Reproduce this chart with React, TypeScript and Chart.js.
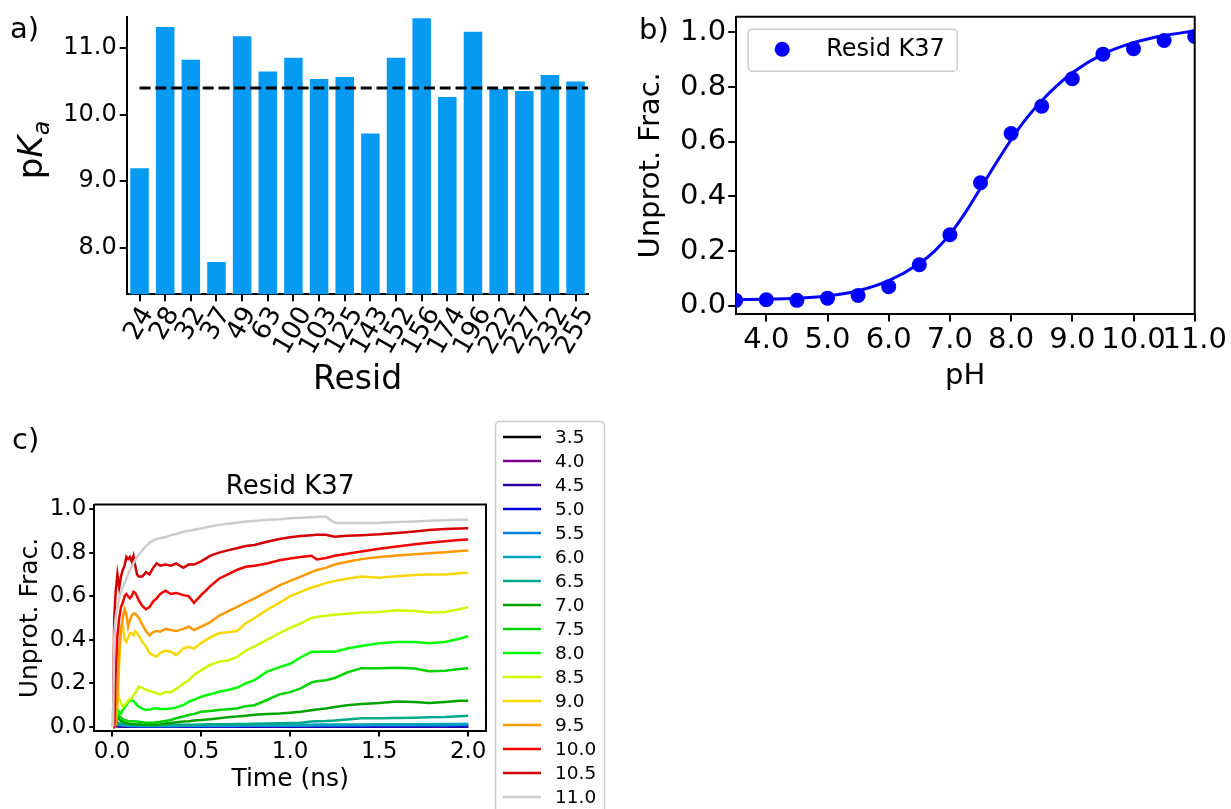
import React, { useEffect, useRef } from "react";
import { Chart, registerables } from "chart.js";

Chart.register(...registerables);

const DV = "DejaVu Sans";

// ---------- Panel a ----------
const RESIDS = ["24", "28", "32", "37", "49", "63", "100", "103", "125", "143", "152", "156", "174", "196", "222", "227", "232", "255"];
const PKA_VALUES = [9.21, 11.33, 10.84, 7.8, 11.19, 10.66, 10.87, 10.55, 10.58, 9.73, 10.87, 11.46, 10.28, 11.26, 10.4, 10.37, 10.61, 10.51];
const PKA_AVERAGE = 10.4;
const PKA_TICKS = [8, 9, 10, 11];

// ---------- Panel b ----------
const PH_MEASURED = [3.5, 4, 4.5, 5, 5.5, 6, 6.5, 7, 7.5, 8, 8.5, 9, 9.5, 10, 10.5, 11];
const FRAC_MEASURED = [0.02, 0.022, 0.02, 0.028, 0.038, 0.07, 0.15, 0.26, 0.45, 0.63, 0.73, 0.83, 0.92, 0.94, 0.97, 0.985];
const PH_FIT = [3.5, 4, 4.5, 5, 5.5, 6, 6.5, 6.75, 7, 7.25, 7.5, 7.75, 8, 8.25, 8.5, 8.75, 9, 9.5, 10, 10.5, 11];
const FRAC_FIT = [0.022, 0.024, 0.028, 0.036, 0.055, 0.092, 0.155, 0.2, 0.262, 0.34, 0.43, 0.52, 0.607, 0.685, 0.75, 0.805, 0.852, 0.92, 0.962, 0.988, 1.005];
const PH_TICKS = [4, 5, 6, 7, 8, 9, 10, 11];
const FRAC_TICKS = [0, 0.2, 0.4, 0.6, 0.8, 1.0];

// ---------- Panel c ----------
const TIME_NS = [0.005, 0.012, 0.02, 0.03, 0.04, 0.05, 0.06, 0.07, 0.08, 0.09, 0.1, 0.11, 0.12, 0.13, 0.14, 0.15, 0.17, 0.19, 0.21, 0.23, 0.25, 0.27, 0.3, 0.33, 0.36, 0.4, 0.43, 0.46, 0.5, 0.55, 0.6, 0.65, 0.7, 0.75, 0.8, 0.87, 0.94, 1.0, 1.06, 1.12, 1.15, 1.2, 1.25, 1.32, 1.4, 1.5, 1.6, 1.7, 1.78, 1.87, 1.95, 2.0];
const TIME_TICKS = [0, 0.5, 1, 1.5, 2];
const PH_LEVELS = ["3.5", "4.0", "4.5", "5.0", "5.5", "6.0", "6.5", "7.0", "7.5", "8.0", "8.5", "9.0", "9.5", "10.0", "10.5", "11.0"];
const LINE_COLORS = ["#000000", "#7d008e", "#2d00a4", "#0000dd", "#0082dd", "#00a4bb", "#00aa88", "#00a400", "#00d200", "#00ff00", "#ccf900", "#f9d700", "#ff9900", "#f30000", "#d20000", "#cccccc"];

const FRAC_PH_3_5 = [0, 0, 0.004, 0.003, 0.002, 0.002, 0.002, 0.001, 0.001, 0.001, 0.001, 0.001, 0.001, 0.001, 0.001, 0.001, 0.001, 0.001, 0.001, 0.001, 0.001, 0.001, 0.001, 0.001, 0.001, 0.001, 0.001, 0.001, 0.001, 0.001, 0.001, 0.001, 0.001, 0.001, 0.001, 0.001, 0.001, 0.001, 0.001, 0.001, 0.001, 0.001, 0.001, 0.001, 0.001, 0.001, 0.001, 0.001, 0.001, 0.001, 0.001, 0.001];
const FRAC_PH_4_0 = [0, 0, 0.006, 0.005, 0.004, 0.003, 0.003, 0.002, 0.002, 0.002, 0.002, 0.002, 0.002, 0.001, 0.001, 0.001, 0.001, 0.001, 0.001, 0.001, 0.001, 0.001, 0.001, 0.001, 0.001, 0.001, 0.001, 0.001, 0.001, 0.001, 0.001, 0.001, 0.001, 0.001, 0.002, 0.002, 0.002, 0.002, 0.002, 0.002, 0.002, 0.002, 0.002, 0.002, 0.002, 0.002, 0.002, 0.002, 0.002, 0.002, 0.002, 0.002];
const FRAC_PH_4_5 = [0, 0, 0.008, 0.006, 0.005, 0.004, 0.004, 0.003, 0.003, 0.003, 0.002, 0.002, 0.002, 0.002, 0.002, 0.002, 0.002, 0.002, 0.002, 0.002, 0.002, 0.002, 0.002, 0.002, 0.002, 0.002, 0.002, 0.002, 0.002, 0.002, 0.002, 0.002, 0.002, 0.002, 0.003, 0.003, 0.003, 0.003, 0.003, 0.003, 0.003, 0.003, 0.003, 0.003, 0.003, 0.003, 0.003, 0.003, 0.003, 0.003, 0.003, 0.003];
const FRAC_PH_5_0 = [0, 0, 0.01, 0.008, 0.007, 0.006, 0.005, 0.005, 0.004, 0.004, 0.004, 0.004, 0.003, 0.003, 0.003, 0.003, 0.003, 0.003, 0.003, 0.003, 0.003, 0.003, 0.003, 0.003, 0.003, 0.003, 0.003, 0.003, 0.003, 0.003, 0.003, 0.003, 0.003, 0.004, 0.004, 0.004, 0.004, 0.004, 0.004, 0.004, 0.004, 0.004, 0.004, 0.004, 0.004, 0.004, 0.004, 0.005, 0.005, 0.005, 0.005, 0.005];
const FRAC_PH_5_5 = [0, 0, 0.012, 0.01, 0.009, 0.008, 0.007, 0.006, 0.006, 0.005, 0.005, 0.005, 0.005, 0.005, 0.004, 0.004, 0.004, 0.004, 0.004, 0.004, 0.004, 0.004, 0.004, 0.004, 0.004, 0.005, 0.005, 0.005, 0.005, 0.005, 0.005, 0.005, 0.005, 0.006, 0.006, 0.006, 0.006, 0.006, 0.006, 0.007, 0.007, 0.007, 0.007, 0.007, 0.007, 0.008, 0.008, 0.008, 0.008, 0.008, 0.009, 0.009];
const FRAC_PH_6_0 = [0, 0, 0.014, 0.012, 0.011, 0.01, 0.009, 0.009, 0.008, 0.008, 0.008, 0.007, 0.007, 0.007, 0.007, 0.006, 0.006, 0.006, 0.006, 0.006, 0.006, 0.007, 0.007, 0.007, 0.007, 0.008, 0.008, 0.008, 0.008, 0.009, 0.009, 0.009, 0.01, 0.01, 0.01, 0.01, 0.011, 0.011, 0.011, 0.011, 0.012, 0.012, 0.012, 0.012, 0.012, 0.013, 0.013, 0.013, 0.013, 0.014, 0.014, 0.015];
const FRAC_PH_6_5 = [0, 0, 0.012, 0.02, 0.018, 0.016, 0.015, 0.014, 0.013, 0.012, 0.012, 0.011, 0.011, 0.01, 0.01, 0.01, 0.009, 0.009, 0.008, 0.008, 0.008, 0.008, 0.009, 0.009, 0.01, 0.01, 0.011, 0.011, 0.012, 0.013, 0.013, 0.013, 0.014, 0.014, 0.015, 0.016, 0.017, 0.018, 0.02, 0.025, 0.027, 0.028, 0.03, 0.035, 0.04, 0.04, 0.041, 0.043, 0.045, 0.046, 0.05, 0.052];
const FRAC_PH_7_0 = [0, 0, 0.01, 0.045, 0.035, 0.028, 0.024, 0.02, 0.018, 0.016, 0.015, 0.014, 0.013, 0.012, 0.012, 0.012, 0.011, 0.01, 0.01, 0.011, 0.012, 0.013, 0.016, 0.019, 0.022, 0.025, 0.027, 0.03, 0.032, 0.036, 0.04, 0.045, 0.048, 0.052, 0.056, 0.06, 0.062, 0.066, 0.07, 0.077, 0.08, 0.085, 0.092, 0.1, 0.106, 0.11, 0.117, 0.115, 0.11, 0.115, 0.12, 0.12];
const FRAC_PH_7_5 = [0, 0, 0.02, 0.065, 0.05, 0.042, 0.036, 0.032, 0.03, 0.028, 0.027, 0.026, 0.026, 0.025, 0.025, 0.024, 0.022, 0.02, 0.02, 0.02, 0.022, 0.024, 0.028, 0.032, 0.04, 0.048, 0.055, 0.06, 0.07, 0.074, 0.078, 0.082, 0.085, 0.095, 0.1, 0.124, 0.15, 0.16, 0.177, 0.205, 0.21, 0.215, 0.225, 0.25, 0.27, 0.27, 0.272, 0.268, 0.256, 0.258, 0.266, 0.27];
const FRAC_PH_8_0 = [0, 0, 0.02, 0.08, 0.07, 0.06, 0.08, 0.09, 0.1, 0.115, 0.12, 0.125, 0.12, 0.11, 0.1, 0.093, 0.085, 0.078, 0.08, 0.085, 0.085, 0.083, 0.083, 0.085, 0.09, 0.1, 0.116, 0.125, 0.139, 0.15, 0.162, 0.17, 0.18, 0.2, 0.215, 0.254, 0.275, 0.29, 0.32, 0.345, 0.345, 0.345, 0.345, 0.36, 0.372, 0.384, 0.39, 0.39, 0.384, 0.39, 0.405, 0.417];
const FRAC_PH_8_5 = [0, 0, 0.03, 0.17, 0.13, 0.11, 0.093, 0.1, 0.11, 0.12, 0.13, 0.13, 0.145, 0.155, 0.17, 0.185, 0.18, 0.17, 0.165, 0.16, 0.155, 0.15, 0.16, 0.16, 0.175, 0.2, 0.215, 0.24, 0.26, 0.285, 0.3, 0.305, 0.32, 0.35, 0.37, 0.4, 0.43, 0.455, 0.475, 0.5, 0.505, 0.51, 0.515, 0.52, 0.525, 0.528, 0.535, 0.532, 0.525, 0.528, 0.54, 0.55];
const FRAC_PH_9_0 = [0, 0, 0.02, 0.1, 0.3, 0.44, 0.47, 0.4, 0.39, 0.41, 0.43, 0.43, 0.42, 0.44, 0.43, 0.42, 0.39, 0.37, 0.34, 0.33, 0.322, 0.34, 0.35, 0.345, 0.33, 0.36, 0.368, 0.36, 0.385, 0.41, 0.43, 0.435, 0.44, 0.475, 0.5, 0.537, 0.57, 0.6, 0.62, 0.64, 0.647, 0.66, 0.67, 0.68, 0.69, 0.685, 0.692, 0.697, 0.7, 0.7, 0.705, 0.708];
const FRAC_PH_9_5 = [0, 0, 0.01, 0.15, 0.35, 0.45, 0.5, 0.54, 0.52, 0.46, 0.49, 0.51, 0.52, 0.52, 0.51, 0.5, 0.47, 0.44, 0.42, 0.435, 0.44, 0.437, 0.45, 0.445, 0.44, 0.45, 0.46, 0.445, 0.46, 0.48, 0.51, 0.53, 0.55, 0.57, 0.59, 0.62, 0.65, 0.67, 0.69, 0.71, 0.72, 0.73, 0.745, 0.758, 0.77, 0.78, 0.787, 0.792, 0.797, 0.802, 0.807, 0.81];
const FRAC_PH_10_0 = [0, 0, 0.25, 0.42, 0.5, 0.55, 0.57, 0.6, 0.61, 0.6, 0.59, 0.6, 0.62, 0.615, 0.6, 0.58, 0.555, 0.54, 0.55, 0.575, 0.59, 0.61, 0.625, 0.61, 0.615, 0.605, 0.6, 0.57, 0.605, 0.645, 0.68, 0.7, 0.72, 0.735, 0.74, 0.75, 0.765, 0.773, 0.78, 0.785, 0.768, 0.775, 0.785, 0.795, 0.805, 0.818, 0.828, 0.838, 0.845, 0.852, 0.858, 0.86];
const FRAC_PH_10_5 = [0, 0.5, 0.62, 0.7, 0.64, 0.69, 0.72, 0.74, 0.78, 0.77, 0.78, 0.76, 0.785, 0.74, 0.7, 0.69, 0.69, 0.71, 0.7, 0.73, 0.75, 0.74, 0.745, 0.74, 0.75, 0.73, 0.745, 0.745, 0.76, 0.785, 0.8, 0.81, 0.82, 0.83, 0.835, 0.85, 0.862, 0.87, 0.876, 0.88, 0.882, 0.882, 0.873, 0.877, 0.88, 0.884, 0.89, 0.897, 0.903, 0.908, 0.91, 0.911];
const FRAC_PH_11_0 = [0, 0.42, 0.5, 0.55, 0.59, 0.62, 0.64, 0.66, 0.68, 0.7, 0.72, 0.735, 0.75, 0.765, 0.78, 0.79, 0.81, 0.83, 0.845, 0.855, 0.862, 0.866, 0.87, 0.88, 0.885, 0.895, 0.9, 0.905, 0.91, 0.92, 0.927, 0.932, 0.937, 0.942, 0.945, 0.95, 0.953, 0.957, 0.96, 0.962, 0.963, 0.965, 0.937, 0.936, 0.936, 0.937, 0.94, 0.943, 0.946, 0.948, 0.95, 0.951];

const TRACES = [FRAC_PH_3_5, FRAC_PH_4_0, FRAC_PH_4_5, FRAC_PH_5_0, FRAC_PH_5_5, FRAC_PH_6_0, FRAC_PH_6_5, FRAC_PH_7_0, FRAC_PH_7_5, FRAC_PH_8_0, FRAC_PH_8_5, FRAC_PH_9_0, FRAC_PH_9_5, FRAC_PH_10_0, FRAC_PH_10_5, FRAC_PH_11_0];

// ---------- helpers ----------
const axisGrid = (len: number, w: number) => ({
  display: true,
  drawOnChartArea: false,
  drawTicks: true,
  tickLength: len,
  tickColor: "#000",
  tickWidth: w,
  color: "#000",
  lineWidth: w,
  offset: false,
});
const axisBorder = (w: number) => ({ display: true, color: "#000", width: w });
const fixedTicks = (vals: number[]) => (s: any) => {
  s.ticks = vals.map((v) => ({ value: v }));
};

function roundRect(ctx: CanvasRenderingContext2D, x: number, y: number, w: number, h: number, r: number) {
  ctx.beginPath();
  ctx.moveTo(x + r, y);
  ctx.lineTo(x + w - r, y);
  ctx.arcTo(x + w, y, x + w, y + r, r);
  ctx.lineTo(x + w, y + h - r);
  ctx.arcTo(x + w, y + h, x + w - r, y + h, r);
  ctx.lineTo(x + r, y + h);
  ctx.arcTo(x, y + h, x, y + h - r, r);
  ctx.lineTo(x, y + r);
  ctx.arcTo(x, y, x + r, y, r);
  ctx.closePath();
}

function frame(chart: any, w: number) {
  const { ctx, chartArea } = chart;
  ctx.save();
  ctx.strokeStyle = "#000";
  ctx.lineWidth = w;
  ctx.beginPath();
  ctx.moveTo(chartArea.left, chartArea.top);
  ctx.lineTo(chartArea.right, chartArea.top);
  ctx.lineTo(chartArea.right, chartArea.bottom);
  ctx.stroke();
  ctx.restore();
}

// ---------- panel a plugin ----------
const panelAPlugin = {
  id: "panelA",
  afterDatasetsDraw(chart: any) {
    const { ctx, chartArea, scales } = chart;
    const y = scales.y.getPixelForValue(PKA_AVERAGE);
    const x0 = scales.x.getPixelForValue(0);
    ctx.save();
    ctx.beginPath();
    ctx.rect(chartArea.left, chartArea.top, chartArea.right - chartArea.left, chartArea.bottom - chartArea.top);
    ctx.clip();
    ctx.strokeStyle = "#000";
    ctx.lineWidth = 3;
    ctx.setLineDash([11, 4.8]);
    ctx.beginPath();
    ctx.moveTo(x0, y);
    ctx.lineTo(chartArea.right, y);
    ctx.stroke();
    ctx.restore();
  },
  afterDraw(chart: any) {
    const { ctx, chartArea, scales } = chart;
    ctx.save();
    ctx.fillStyle = "#000";
    const fs = 26;
    ctx.font = `${fs}px "${DV}"`;
    const ang = (60 * Math.PI) / 180;
    const top = chartArea.bottom + 7 + 2;
    RESIDS.forEach((lab, i) => {
      const x = scales.x.getPixelForValue(i);
      const w = ctx.measureText(lab).width;
      const h = fs * 0.95;
      const H = w * Math.sin(ang) + h * Math.cos(ang);
      ctx.save();
      ctx.translate(x, top + H / 2);
      ctx.rotate(-ang);
      ctx.textAlign = "center";
      ctx.textBaseline = "middle";
      ctx.fillText(lab, 0, 0);
      ctx.restore();
    });
    // y title pK_a
    const f = 34;
    ctx.save();
    ctx.translate(30, 150);
    ctx.rotate(-Math.PI / 2);
    ctx.textBaseline = "alphabetic";
    ctx.textAlign = "left";
    ctx.font = `${f}px "${DV}"`;
    const pW = ctx.measureText("p").width;
    ctx.font = `italic ${f}px "${DV}"`;
    const kW = ctx.measureText("K").width;
    ctx.font = `italic ${f * 0.7}px "${DV}"`;
    const aW = ctx.measureText("a").width;
    const total = pW + kW + aW;
    let xx = -total / 2;
    const by = f * 0.36;
    ctx.font = `${f}px "${DV}"`;
    ctx.fillText("p", xx, by);
    xx += pW;
    ctx.font = `italic ${f}px "${DV}"`;
    ctx.fillText("K", xx, by);
    xx += kW;
    ctx.font = `italic ${f * 0.7}px "${DV}"`;
    ctx.fillText("a", xx, by + f * 0.2);
    ctx.restore();
    ctx.font = `29px "${DV}"`;
    ctx.textBaseline = "alphabetic";
    ctx.textAlign = "left";
    ctx.fillText("a)", 10, 38);
    ctx.restore();
  },
};

// ---------- panel b plugin ----------
const panelBPlugin = {
  id: "panelB",
  afterDraw(chart: any) {
    const { ctx, chartArea } = chart;
    frame(chart, 2);
    ctx.save();
    const bx = chartArea.left + 12.5;
    const by = chartArea.top + 12.5;
    ctx.fillStyle = "rgba(255,255,255,0.8)";
    ctx.strokeStyle = "#cccccc";
    ctx.lineWidth = 1.5;
    roundRect(ctx, bx, by, 209, 42, 4);
    ctx.fill();
    ctx.stroke();
    const ds = chart.data.datasets[1];
    ctx.fillStyle = ds.pointBackgroundColor;
    ctx.beginPath();
    ctx.arc(bx + 34, by + 20, 7.5, 0, Math.PI * 2);
    ctx.fill();
    ctx.fillStyle = "#000";
    ctx.font = `24px "${DV}"`;
    ctx.textBaseline = "middle";
    ctx.textAlign = "left";
    ctx.fillText(ds.label, bx + 78, by + 21);
    ctx.font = `29px "${DV}"`;
    ctx.textBaseline = "alphabetic";
    ctx.fillText("b)", 19, 39);
    ctx.restore();
  },
};

// ---------- panel c plugin ----------
const panelCPlugin = {
  id: "panelC",
  afterDraw(chart: any) {
    const { ctx, chartArea } = chart;
    frame(chart, 2);
    ctx.save();
    ctx.fillStyle = "#000";
    ctx.font = `26px "${DV}"`;
    ctx.textAlign = "center";
    ctx.textBaseline = "middle";
    ctx.fillText("Resid K37", (chartArea.left + chartArea.right) / 2, 77);
    ctx.fillStyle = "rgba(255,255,255,0.8)";
    ctx.strokeStyle = "#cccccc";
    ctx.lineWidth = 1.5;
    roundRect(ctx, 495.5, 11.5, 109, 420, 4);
    ctx.fill();
    ctx.stroke();
    ctx.font = `18.5px "${DV}"`;
    ctx.textAlign = "left";
    chart.data.datasets.forEach((ds: any, i: number) => {
      const y = 27 + i * 24;
      ctx.strokeStyle = ds.borderColor;
      ctx.lineWidth = 2.5;
      ctx.beginPath();
      ctx.moveTo(503, y);
      ctx.lineTo(541, y);
      ctx.stroke();
      ctx.fillStyle = "#000";
      ctx.fillText(ds.label, 555, y + 1);
    });
    ctx.font = `29px "${DV}"`;
    ctx.textBaseline = "alphabetic";
    ctx.fillText("c)", 12, 39);
    ctx.restore();
  },
};

export default function App() {
  const aRef = useRef<HTMLCanvasElement>(null);
  const bRef = useRef<HTMLCanvasElement>(null);
  const cRef = useRef<HTMLCanvasElement>(null);

  useEffect(() => {
    const charts: Chart[] = [];

    charts.push(
      new Chart(aRef.current as HTMLCanvasElement, {
        type: "bar",
        data: {
          labels: RESIDS,
          datasets: [
            {
              data: PKA_VALUES,
              backgroundColor: "#069af3",
              borderColor: "rgba(255,255,255,0.55)",
              borderWidth: 1,
              barPercentage: 0.8,
              categoryPercentage: 1.0,
            },
          ],
        },
        options: {
          animation: false,
          responsive: false,
          devicePixelRatio: 1,
          events: [],
          layout: { padding: { left: 0, right: 610 - 588.4, top: 16.7, bottom: 0 } },
          plugins: { legend: { display: false }, tooltip: { enabled: false } },
          scales: {
            x: {
              type: "category",
              offset: true,
              z: 1,
              grid: axisGrid(7, 2),
              border: axisBorder(2),
              ticks: { display: false },
              title: {
                display: true,
                text: "Resid",
                color: "#000",
                font: { family: DV, size: 33, lineHeight: 1 },
                padding: { top: 0, bottom: 3 },
              },
              afterFit: (s: any) => {
                s.height = 400 - 294.3;
              },
            },
            y: {
              type: "linear",
              min: 7.3,
              max: 11.47,
              z: 1,
              afterBuildTicks: fixedTicks(PKA_TICKS),
              grid: axisGrid(7, 2),
              border: axisBorder(2),
              ticks: {
                color: "#000",
                padding: 3,
                font: { family: DV, size: 24, lineHeight: 1 },
                callback: (v: any) => Number(v).toFixed(1),
              },
              afterFit: (s: any) => {
                s.width = 126.7;
              },
            },
          },
        } as any,
        plugins: [panelAPlugin],
      })
    );

    charts.push(
      new Chart(bRef.current as HTMLCanvasElement, {
        type: "line",
        data: {
          datasets: [
            {
              label: "fit",
              data: PH_FIT.map((x, i) => ({ x, y: FRAC_FIT[i] })),
              borderColor: "#0000ff",
              borderWidth: 3,
              pointRadius: 0,
              cubicInterpolationMode: "monotone",
              clip: 0,
              order: 1,
            },
            {
              label: "Resid K37",
              data: PH_MEASURED.map((x, i) => ({ x, y: FRAC_MEASURED[i] })),
              showLine: false,
              pointRadius: 7.5,
              pointBackgroundColor: "#0000ff",
              pointBorderWidth: 0,
              borderColor: "#0000ff",
              clip: 0,
              order: 0,
            },
          ],
        },
        options: {
          animation: false,
          responsive: false,
          devicePixelRatio: 1,
          events: [],
          layout: { padding: { left: 0, right: 611 - 576.7, top: 16.7, bottom: 0 } },
          plugins: { legend: { display: false }, tooltip: { enabled: false } },
          scales: {
            x: {
              type: "linear",
              min: 3.5,
              max: 11,
              afterBuildTicks: fixedTicks(PH_TICKS),
              grid: axisGrid(7.5, 2),
              border: axisBorder(2),
              ticks: {
                color: "#000",
                padding: 4,
                autoSkip: false,
                minRotation: 0,
                maxRotation: 0,
                font: { family: DV, size: 29, lineHeight: 1 },
                callback: (v: any) => Number(v).toFixed(1),
              },
              title: {
                display: true,
                text: "pH",
                color: "#000",
                font: { family: DV, size: 29, lineHeight: 1 },
                padding: { top: 0, bottom: 9 },
              },
              afterFit: (s: any) => {
                s.height = 400 - 314;
              },
            },
            y: {
              type: "linear",
              min: -0.03,
              max: 1.057,
              afterBuildTicks: fixedTicks(FRAC_TICKS),
              grid: axisGrid(7.5, 2),
              border: axisBorder(2),
              ticks: {
                color: "#000",
                padding: 2,
                font: { family: DV, size: 29, lineHeight: 1 },
                callback: (v: any) => Number(v).toFixed(1),
              },
              title: {
                display: true,
                text: "Unprot. Frac.",
                color: "#000",
                font: { family: DV, size: 29, lineHeight: 1 },
                padding: { top: 17, bottom: 0 },
              },
              afterFit: (s: any) => {
                s.width = 115.7;
              },
            },
          },
        } as any,
        plugins: [panelBPlugin],
      })
    );

    charts.push(
      new Chart(cRef.current as HTMLCanvasElement, {
        type: "line",
        data: {
          datasets: TRACES.map((arr, k) => ({
            label: PH_LEVELS[k],
            data: TIME_NS.map((x, i) => ({ x, y: arr[i] })),
            borderColor: LINE_COLORS[k],
            borderWidth: 2.5,
            pointRadius: 0,
            tension: 0,
            clip: 0,
            order: TRACES.length - k,
          })),
        },
        options: {
          animation: false,
          responsive: false,
          devicePixelRatio: 1,
          events: [],
          layout: { padding: { left: 0, right: 620 - 486, top: 94.6, bottom: 0 } },
          plugins: { legend: { display: false }, tooltip: { enabled: false } },
          scales: {
            x: {
              type: "linear",
              min: -0.1,
              max: 2.1,
              afterBuildTicks: fixedTicks(TIME_TICKS),
              grid: axisGrid(5, 2),
              border: axisBorder(2),
              ticks: {
                color: "#000",
                padding: 4,
                autoSkip: false,
                minRotation: 0,
                maxRotation: 0,
                font: { family: DV, size: 23, lineHeight: 1 },
                callback: (v: any) => Number(v).toFixed(1),
              },
              title: {
                display: true,
                text: "Time (ns)",
                color: "#000",
                font: { family: DV, size: 25, lineHeight: 1 },
                padding: { top: 0, bottom: 17.5 },
              },
              afterFit: (s: any) => {
                s.height = 399 - 321.4;
              },
            },
            y: {
              type: "linear",
              min: -0.02,
              max: 1.02,
              afterBuildTicks: fixedTicks(FRAC_TICKS),
              grid: axisGrid(5, 2),
              border: axisBorder(2),
              ticks: {
                color: "#000",
                padding: 3,
                font: { family: DV, size: 23, lineHeight: 1 },
                callback: (v: any) => Number(v).toFixed(1),
              },
              title: {
                display: true,
                text: "Unprot. Frac.",
                color: "#000",
                font: { family: DV, size: 25, lineHeight: 1 },
                padding: { top: 18, bottom: 0 },
              },
              afterFit: (s: any) => {
                s.width = 94.3;
              },
            },
          },
        } as any,
        plugins: [panelCPlugin],
      })
    );

    return () => {
      charts.forEach((c) => c.destroy());
    };
  }, []);

  return (
    <div style={{ position: "fixed", left: 0, top: 0, width: 1231, height: 809, background: "#fff", overflow: "hidden" }}>
      <canvas ref={aRef} width={610} height={400} style={{ position: "absolute", left: 0, top: 0, width: 610, height: 400 }} />
      <canvas ref={bRef} width={611} height={400} style={{ position: "absolute", left: 620, top: 0, width: 611, height: 400 }} />
      <canvas ref={cRef} width={620} height={399} style={{ position: "absolute", left: 0, top: 410, width: 620, height: 399 }} />
    </div>
  );
}
